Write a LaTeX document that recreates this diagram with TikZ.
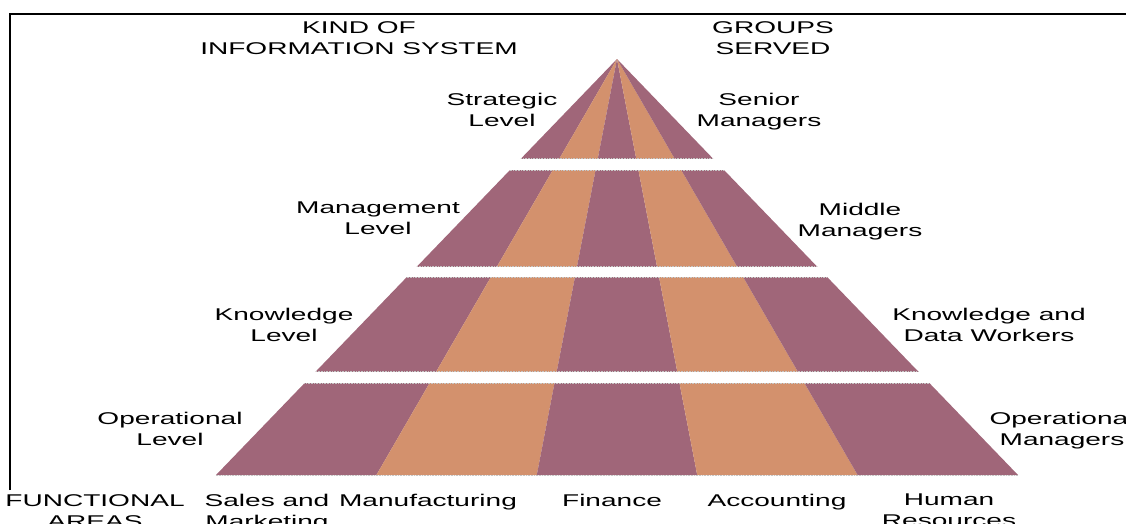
\documentclass[tikz,border=0pt]{standalone}
\usepackage{fontspec}
\setmainfont{Liberation Sans}[FakeStretch=1.65]
\usepackage{xcolor}
\usepackage{tikz}
\usetikzlibrary{calc}

\definecolor{plum}{RGB}{160,102,121}
\definecolor{peach}{RGB}{211,145,109}

\begin{document}
\begin{tikzpicture}[x=1pt, y=-1pt,
    lbl/.style={anchor=north, inner sep=0pt, align=center, font=\fontsize{17}{21}\selectfont}]
    \useasboundingbox (0,0) rectangle (1126,523);
    \clip (0,0) rectangle (1126,523);

    % Cornice
    \draw[line width=2.5pt] (10,490) -- (10,14) -- (1140,14);

    % Piramide: fasce che convergono al vertice
    \coordinate (apex) at (617,59);
    \foreach \ytop/\ybot in {59/158, 170/266, 277/371, 383/475} {
        \begin{scope}
            \clip (0,\ytop) rectangle (1126,\ybot);
            \foreach \i/\col in {0/plum, 1/peach, 2/plum, 3/peach, 4/plum} {
                \pgfmathsetmacro{\xa}{216+160.4*\i}
                \pgfmathsetmacro{\xb}{216+160.4*(\i+1)}
                \fill[\col] (apex) -- (\xa,475) -- (\xb,475) -- cycle;
            }
        \end{scope}
        % bordi puntinati dei livelli
        \pgfmathsetmacro{\la}{617-0.965*(\ytop-59)}
        \pgfmathsetmacro{\ra}{617+0.965*(\ytop-59)}
        \pgfmathsetmacro{\lb}{617-0.965*(\ybot-59)}
        \pgfmathsetmacro{\rb}{617+0.965*(\ybot-59)}
        \draw[gray!45, densely dotted, line width=0.6pt] (\la,\ytop) -- (\ra,\ytop);
        \draw[gray!45, densely dotted, line width=0.6pt] (\lb,\ybot) -- (\rb,\ybot);
    }

    % Intestazioni
    \node[lbl] (kind) at (359,21) {KIND OF\\INFORMATION SYSTEM};
    \node[lbl] (groups) at (773,21) {GROUPS\\SERVED};

    % Livelli (sinistra) e gruppi (destra)
    \node[lbl] (strategic) at (502,93) {Strategic\\Level};
    \node[lbl] (senior) at (759,93) {Senior\\Managers};
    \node[lbl] (management) at (378,202) {Management\\Level};
    \node[lbl] (middle) at (860,203) {Middle\\Managers};
    \node[lbl] (knowledge) at (284,308) {Knowledge\\Level};
    \node[lbl] (workers) at (989,308) {Knowledge and\\Data Workers};
    \node[lbl] (operational) at (170,412) {Operational\\Level};
    \node[lbl] (opmanagers) at (1062,412) {Operational\\Managers};

    % Aree funzionali
    \node[lbl] (functional) at (95,494) {FUNCTIONAL\\AREAS};
    \node[lbl] (sales) at (267,494) {Sales and\\Marketing};
    \node[lbl] (manufacturing) at (428,494) {Manufacturing};
    \node[lbl] (finance) at (612,494) {Finance};
    \node[lbl] (accounting) at (777,494) {Accounting};
    \node[lbl] (human) at (949,494) {Human\\Resources};
\end{tikzpicture}
\end{document}
